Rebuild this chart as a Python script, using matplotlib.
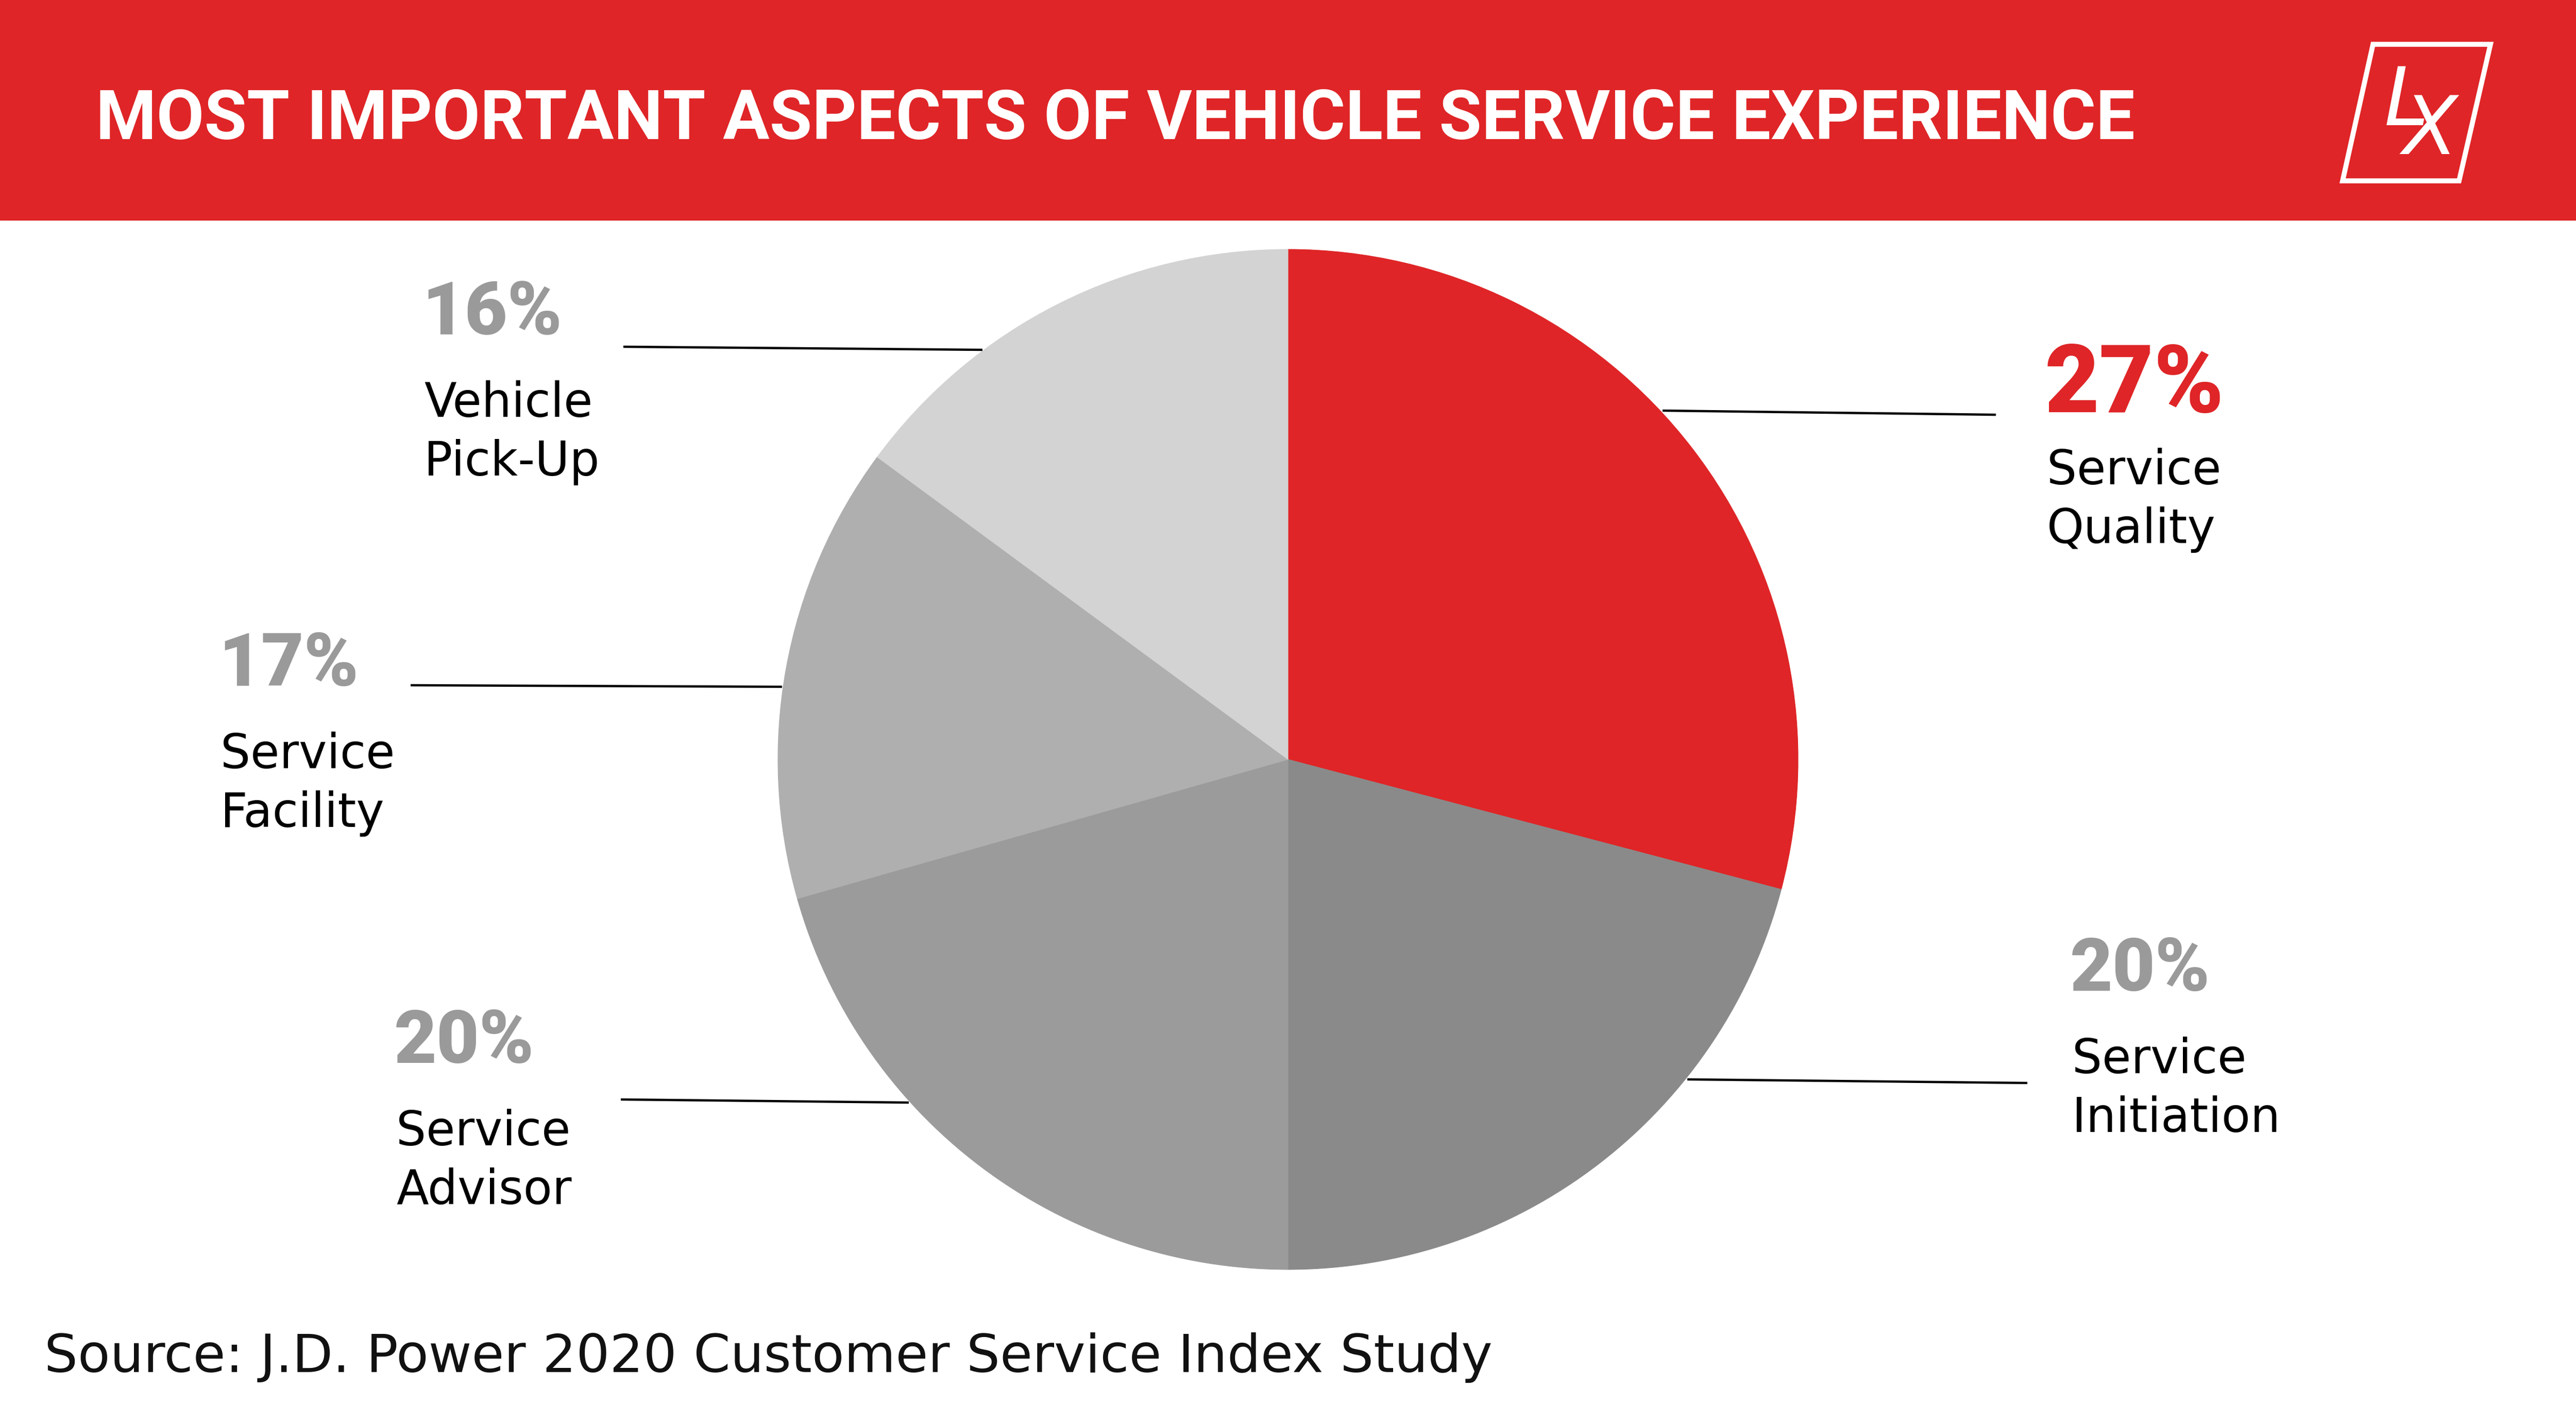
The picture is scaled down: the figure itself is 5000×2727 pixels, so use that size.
import matplotlib
matplotlib.use("Agg")
import matplotlib.pyplot as plt
from matplotlib.patches import Rectangle, Polygon
from matplotlib import font_manager

W, H = 5000, 2727
DPI = 100

# values (clockwise from 12 o'clock)
categories = ["Service Quality", "Service Initiation", "Service Advisor",
              "Service Facility", "Vehicle Pick-Up"]
pct_labels = ["27%", "20%", "20%", "17%", "16%"]
# wedge sizes as they are drawn in the reference (not quite the printed %)
wedge_sizes = [29.1, 20.9, 20.6, 14.5, 14.9]
label_lines = [["Service", "Quality"], ["Service", "Initiation"],
               ["Service", "Advisor"], ["Service", "Facility"],
               ["Vehicle", "Pick-Up"]]

title = "MOST IMPORTANT ASPECTS OF VEHICLE SERVICE EXPERIENCE"
source = "Source: J.D. Power 2020 Customer Service Index Study"

RED = "#df2527"
wedge_colors = [RED, "#8a8a8a", "#9b9b9b", "#afafaf", "#d3d3d3"]
pct_colors = [RED, "#9a9a9a", "#9a9a9a", "#9a9a9a", "#9a9a9a"]

# layout, image pixels (y down)
label_pos = [(3969, 800), (4018, 1923), (765, 2063), (424, 1331), (819, 649)]
leaders = [((3227, 797), (3874, 805)), ((3275, 2095), (3935, 2102)),
           ((1205, 2134), (1764, 2140)), ((797, 1330), (1518, 1333)),
           ((1210, 673), (1907, 679))]

names = {f.name for f in font_manager.fontManager.ttflist}
BOLD_FONT = "Roboto" if "Roboto" in names else "DejaVu Sans"
BODY_FONT = "DejaVu Sans"
LOGO_FONT = "Liberation Sans Narrow" if "Liberation Sans Narrow" in names else "DejaVu Sans"


def Y(v):
    return H - v


fig = plt.figure(figsize=(W / DPI, H / DPI), dpi=DPI)
ax = fig.add_axes([0, 0, 1, 1])

wedges, _ = ax.pie(wedge_sizes, colors=wedge_colors, startangle=90,
                   counterclock=False, radius=990, center=(2500, Y(1474)))
for w in wedges:
    w.set_edgecolor(w.get_facecolor())
    w.set_linewidth(0.8)

ax.set_xlim(0, W)
ax.set_ylim(0, H)
ax.set_aspect("equal")
ax.axis("off")

# red header band
ax.add_patch(Rectangle((0, Y(427)), W, 427, color=RED, zorder=3))
t_title = ax.text(186, Y(270), title, color="white", fontsize=86,
                  fontweight="bold", family=BOLD_FONT, va="baseline",
                  ha="left", zorder=4)

# logo
ax.add_patch(Polygon([(4547, Y(351)), (4606, Y(86)), (4834, Y(86)), (4773, Y(351))],
                     closed=True, fill=False, edgecolor="white", lw=7,
                     joinstyle="miter", zorder=4))
ax.text(4628, Y(243), "L", color="white", fontsize=112, family=LOGO_FONT,
        fontstyle="italic", va="baseline", ha="left", zorder=5)
ax.text(4664, Y(299), "X", color="white", fontsize=112, family=LOGO_FONT,
        fontstyle="italic", va="baseline", ha="left", zorder=5)

# leader lines
for (x0, y0), (x1, y1) in leaders:
    ax.plot([x0, x1], [Y(y0), Y(y1)], color="black", lw=3.2,
            solid_capstyle="butt", zorder=5)

# labels
for i, (x, yb) in enumerate(label_pos):
    big = i == 0
    ax.text(x, Y(yb), pct_labels[i], color=pct_colors[i],
            fontsize=132 if big else 103, fontweight="heavy", family=BOLD_FONT,
            va="baseline", ha="left")
    first = yb + (140 if big else 160)
    for k, line in enumerate(label_lines[i]):
        ax.text(x + 4, Y(first + 114 * k), line, color="black", fontsize=66,
                family=BODY_FONT, va="baseline", ha="left")

t_src = ax.text(86, Y(2663), source, color="#111111", fontsize=70,
                family=BODY_FONT, va="baseline", ha="left")

# match the printed widths of the long lines
fig.canvas.draw()
r = fig.canvas.get_renderer()
for t, target in [(t_title, 3963), (t_src, 2812)]:
    bb = t.get_window_extent(r)
    t.set_fontsize(t.get_fontsize() * target / bb.width)

fig.savefig("out.png", dpi=DPI, facecolor="white")
